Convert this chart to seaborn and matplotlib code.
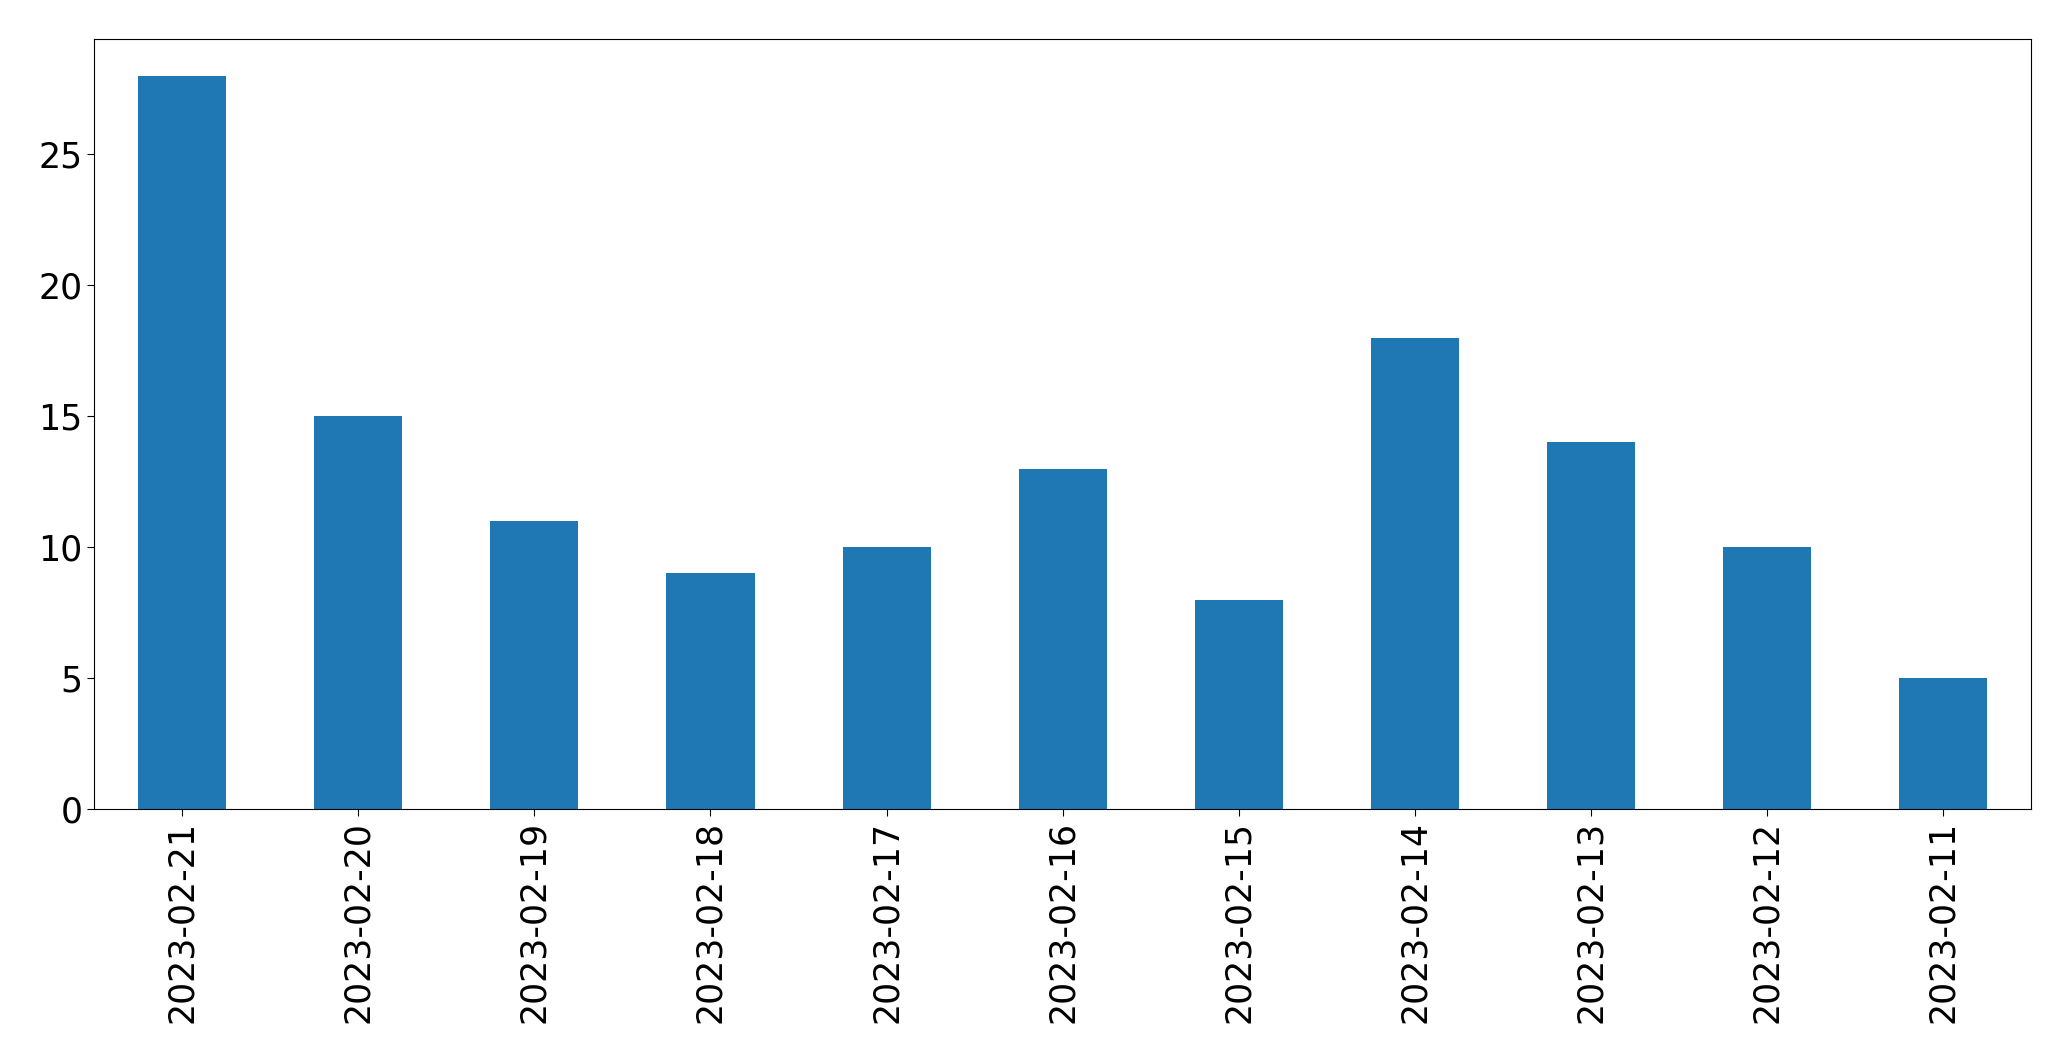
import matplotlib
matplotlib.use("Agg")
import matplotlib.pyplot as plt
import seaborn as sns
import pandas as pd

# Daily counts, newest first
dates = ["2023-02-21", "2023-02-20", "2023-02-19", "2023-02-18", "2023-02-17",
         "2023-02-16", "2023-02-15", "2023-02-14", "2023-02-13", "2023-02-12",
         "2023-02-11"]
counts = [28, 15, 11, 9, 10, 13, 8, 18, 14, 10, 5]

df = pd.DataFrame({"date": dates, "count": counts})

fig = plt.figure(figsize=(20.71, 10.61), dpi=100)
ax = fig.add_axes([0.0455, 0.2375, 0.9352, 0.7255])

sns.barplot(data=df, x="date", y="count", color="#1f77b4", saturation=1,
            width=0.5, ax=ax)

ax.set_xlim(-0.5, len(dates) - 0.5)
ax.set_ylim(0, max(counts) * 1.05)
ax.set_xlabel("")
ax.set_ylabel("")
ax.tick_params(axis="both", labelsize=25, length=5)
ax.tick_params(axis="x", labelrotation=90)

fig.savefig("out.png", dpi=100)
plt.close(fig)
